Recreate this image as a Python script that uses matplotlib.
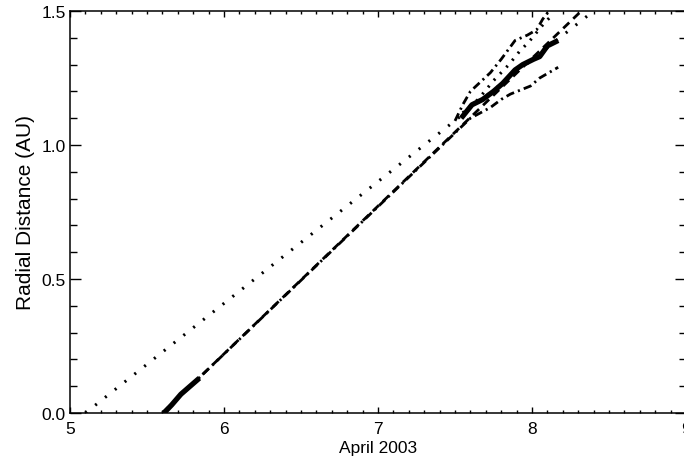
import matplotlib
matplotlib.use("Agg")
import matplotlib.pyplot as plt
from matplotlib.ticker import MultipleLocator

plt.rcParams["font.family"] = ["Liberation Sans", "DejaVu Sans"]
plt.rcParams["lines.scale_dashes"] = False

# ---------------- Data (day of April 2003, AU) ----------------

obs_early_x = [5.61, 5.66, 5.72, 5.78, 5.84]
obs_early_y = [0.00, 0.03, 0.07, 0.10, 0.13]

obs_late_x = [7.54, 7.61, 7.68, 7.75, 7.81, 7.89, 7.94, 8.01, 8.05, 8.10, 8.17]
obs_late_y = [1.10, 1.15, 1.17, 1.20, 1.23, 1.28, 1.30, 1.32, 1.33, 1.37, 1.39]

fit_dot_x = [5.10, 8.40]
fit_dot_y = [0.00, 1.50]

fit_dash_x = [5.60, 8.32]
fit_dash_y = [0.00, 1.50]

lower_x = [5.60, 7.60, 7.73, 7.80, 7.86, 7.99, 8.05, 8.17]
lower_y = [0.00, 1.10, 1.14, 1.17, 1.19, 1.22, 1.25, 1.29]

upper_x = [7.50, 7.55, 7.60, 7.73, 7.80, 7.89, 7.97, 8.03, 8.07, 8.11]
upper_y = [1.09, 1.15, 1.20, 1.27, 1.32, 1.39, 1.41, 1.43, 1.47, 1.50]

mid_x = [7.55, 7.65, 7.75, 7.85, 7.92, 7.98, 8.03, 8.08, 8.14]
mid_y = [1.12, 1.17, 1.24, 1.30, 1.35, 1.385, 1.42, 1.455, 1.49]

# ---------------- Plot ----------------

fig = plt.figure(figsize=(6.84, 4.6), dpi=100)
ax = fig.add_axes([70 / 684, 46 / 460, 616 / 684, 402 / 460])

ax.plot(fit_dot_x, fit_dot_y, color="black", lw=2.2, dashes=(1.5, 7.5))
ax.plot(fit_dash_x, fit_dash_y, color="black", lw=2, dashes=(6, 4))
ax.plot(lower_x, lower_y, color="black", lw=2, dashes=(6, 3, 1.5, 3))
ax.plot(upper_x, upper_y, color="black", lw=2, dashes=(6, 3, 1.5, 3))
ax.plot(mid_x, mid_y, color="black", lw=2.2, dashes=(1.5, 5))
ax.plot(obs_early_x, obs_early_y, color="black", lw=3.8, solid_capstyle="butt")
ax.plot(obs_late_x, obs_late_y, color="black", lw=3.8, solid_capstyle="butt")

ax.set_xlim(5, 9)
ax.set_ylim(0, 1.5)
ax.xaxis.set_major_locator(MultipleLocator(1))
ax.xaxis.set_minor_locator(MultipleLocator(0.1))
ax.yaxis.set_major_locator(MultipleLocator(0.5))
ax.yaxis.set_minor_locator(MultipleLocator(0.1))
ax.yaxis.set_major_formatter(plt.FormatStrFormatter("%.1f"))

ax.tick_params(which="both", direction="in", top=True, right=True,
               labelsize=12.5, width=1)
ax.tick_params(axis="x", which="major", length=4.5, pad=6)
ax.tick_params(axis="x", which="minor", length=2.3)
ax.tick_params(axis="y", which="major", length=8, pad=3)
ax.tick_params(axis="y", which="minor", length=4.7)
for sp in ax.spines.values():
    sp.set_linewidth(1.1)

ax.set_xlabel("April 2003", fontsize=12.5, labelpad=3)
ax.set_ylabel("Radial Distance (AU)", fontsize=15, labelpad=5)

fig.savefig("out.png", dpi=100)
